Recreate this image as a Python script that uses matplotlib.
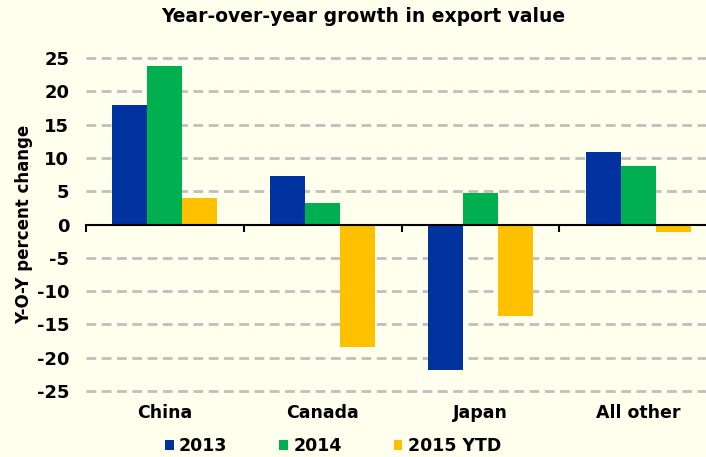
import matplotlib
matplotlib.use("Agg")
import matplotlib.pyplot as plt
import numpy as np
from matplotlib.patches import Patch

categories = ["China", "Canada", "Japan", "All other"]
series_names = ["2013", "2014", "2015 YTD"]
v2013 = [18.0, 7.3, -21.9, 10.9]
v2014 = [23.8, 3.3, 4.7, 8.8]
v2015 = [4.0, -18.4, -13.7, -1.2]
yticks = [-25, -20, -15, -10, -5, 0, 5, 10, 15, 20, 25]
colors = ["#0033A0", "#00B050", "#FFC000"]
bg = "#FFFFEE"

plt.rcParams['font.family'] = ['DejaVu Sans']
fig = plt.figure(figsize=(7.06, 4.57), dpi=100, facecolor=bg)
ax = fig.add_axes([86/706, (457-397.7)/457, 1 - 86/706, (397.7-51.3)/457])
ax.set_facecolor(bg)

x = np.arange(len(categories))
w = 0.222
for i, (vals, c) in enumerate(zip([v2013, v2014, v2015], colors)):
    ax.bar(x + (i - 1) * w, vals, width=w, color=c, edgecolor="none", zorder=3)

ax.set_xlim(-0.5, 3.43)
ax.set_ylim(-26, 26)
ax.set_yticks(yticks)
ax.set_yticklabels([str(t) for t in yticks], fontsize=13, fontweight='bold')
ax.tick_params(axis='y', length=0, pad=12)
for t in yticks:
    if t != 0:
        ax.axhline(t, color="#BFBFBF", lw=2, ls=(0, (3.5, 2)), zorder=1)

for s in ["left", "right", "top"]:
    ax.spines[s].set_visible(False)
ax.spines["bottom"].set_position(("data", 0))
ax.spines["bottom"].set_color("black")
ax.spines["bottom"].set_linewidth(1.5)
ax.spines["bottom"].set_zorder(4)
ax.set_xticks([-0.5, 0.5, 1.5, 2.5])
ax.set_xticklabels([])
ax.tick_params(axis='x', direction='out', length=5, width=1.5, color='black')

for xi, lab in zip(x, categories):
    ax.text(xi, -0.045, lab, transform=ax.get_xaxis_transform(), ha='center', va='center',
            fontsize=12.5, fontweight='bold')

ax.set_ylabel("Y-O-Y percent change", fontsize=12, fontweight='bold')
ax.yaxis.set_label_coords(-(86 - 33) / 620, 0.5)

fig.text(363/706, 1 - 16/457, "Year-over-year growth in export value", ha='center', va='center',
         fontsize=13.5, fontweight='bold')

handles = [Patch(facecolor=c, edgecolor='none') for c in colors]
fig.legend(handles, series_names, loc='center', bbox_to_anchor=(333/706, 1 - 446/457), ncol=3,
           frameon=False, prop={'weight': 'bold', 'size': 12.5}, handlelength=0.5, handleheight=0.5,
           handletextpad=0.3, columnspacing=3.0)

fig.savefig("out.png", dpi=100, facecolor=bg)
